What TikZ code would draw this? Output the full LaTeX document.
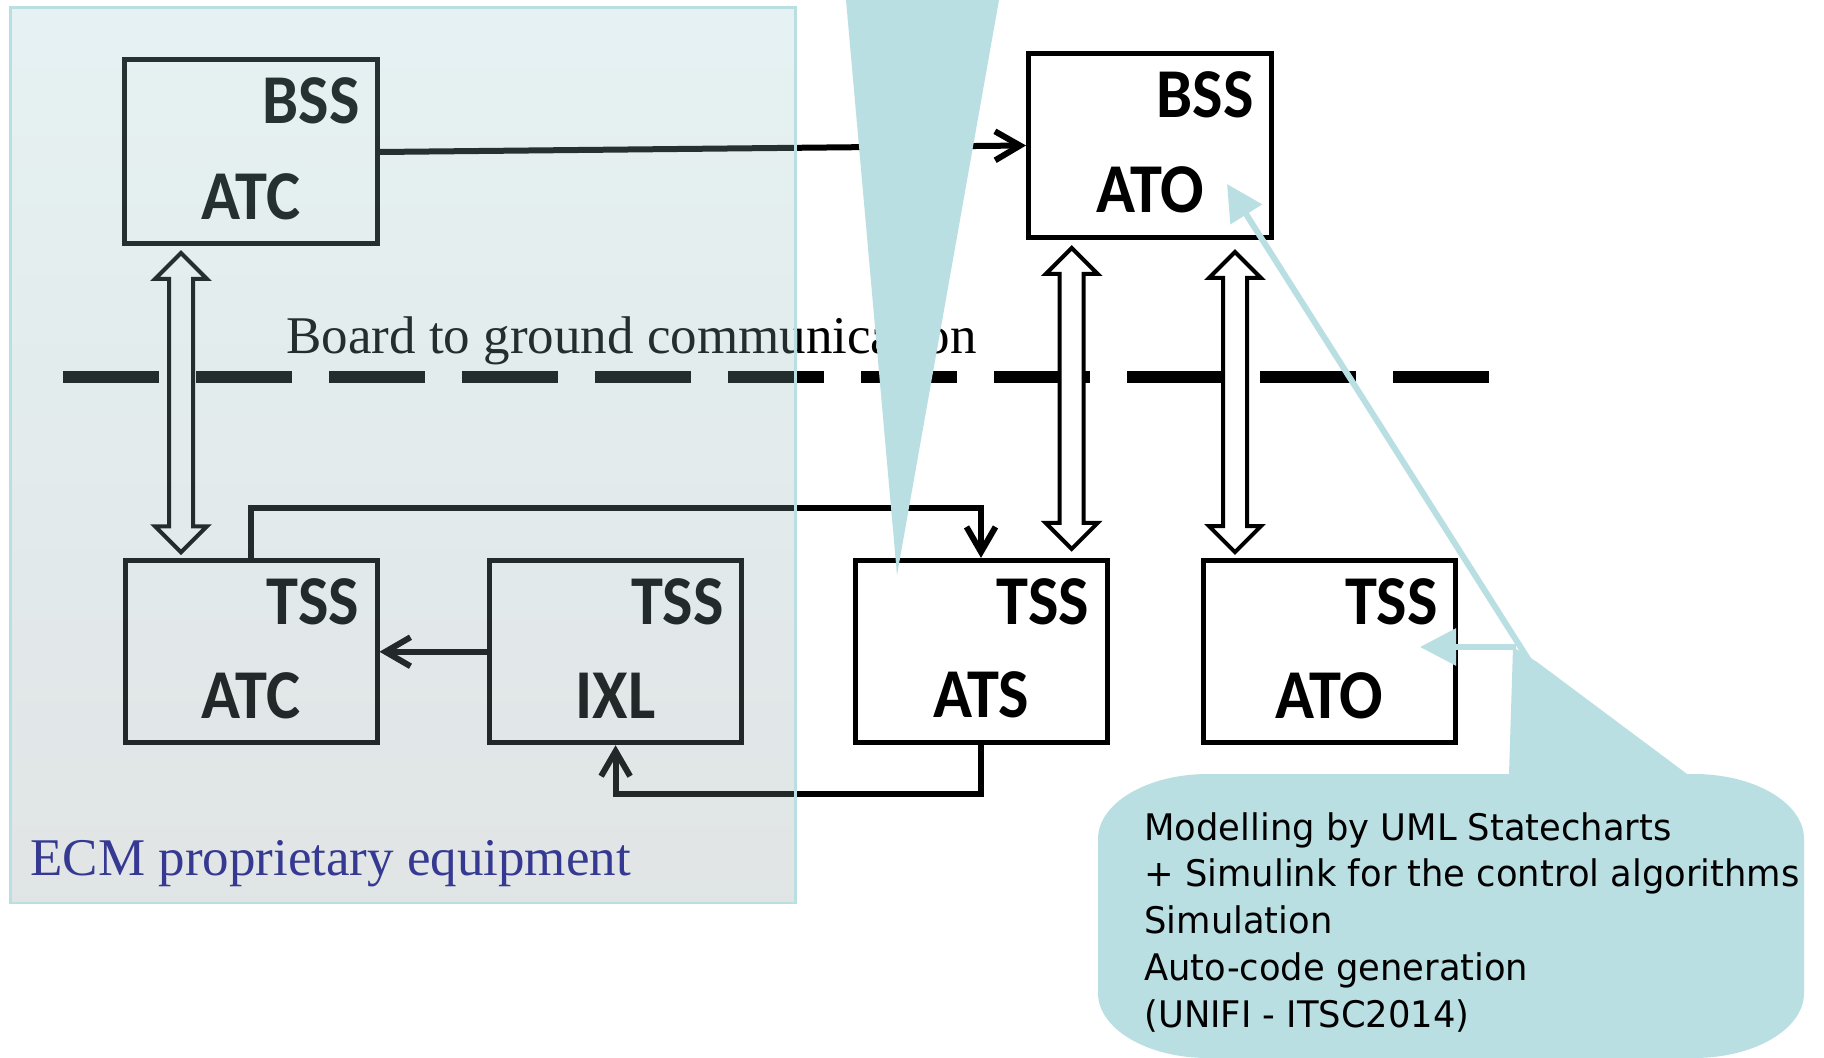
\documentclass[tikz,border=0pt]{standalone}
\usepackage{fontspec}
\setmainfont{Liberation Serif}
\newfontfamily\boxfont{Carlito}[FakeStretch=0.92]
\newfontfamily\calfont{DejaVu Sans}[FakeStretch=0.965]
\usetikzlibrary{arrows.meta,calc}
\definecolor{calcyan}{RGB}{185,223,227}
\definecolor{ecmblue}{RGB}{54,57,146}
\definecolor{ovtop}{RGB}{155,203,207}
\definecolor{ovbot}{RGB}{135,151,155}
\newcommand\dblarrow[2]{\draw[dblarr] (#1) -- ++(26,26) -- ++(-14,0) -- ($(#2)+(12,-26)$) -- ++(14,0) -- (#2) -- ++(-26,-26) -- ++(14,0) -- ($(#1)+(-12,26)$) -- ++(-14,0) -- cycle;}
\begin{document}
\begin{tikzpicture}[x=0.5pt,y=-0.5pt,
  blk/.style={draw=black, line width=2.5pt, minimum width=126pt, minimum height=91pt, inner sep=0pt},
  lbl/.style={font=\boxfont\bfseries\fontsize{35pt}{35pt}\selectfont, inner sep=0pt},
  conn/.style={line width=3pt, -{Straight Barb[length=12.5pt,width=14.5pt]}},
  dblarr/.style={draw=black, fill=white, line width=2pt, line join=miter},
  calarr/.style={draw=calcyan, line width=3pt, -{Triangle[length=18pt,width=18pt]}},
  serif/.style={inner sep=0pt, font=\fontsize{26.5pt}{26.5pt}\selectfont}]
\useasboundingbox (0,0) rectangle (1824,1058);
\fill[white] (0,0) rectangle (1824,1058);
% separator
\draw[line width=6pt, dash pattern=on 48pt off 18.5pt] (63,376.7) -- (1489,376.7);
\node[serif, anchor=base west] (b2g) at (286,354) {Board to ground communication};
% boxes
\node[blk, minimum width=126.5pt, minimum height=92pt] (bssatc) at (251,152) {};
\node[blk, minimum width=121.5pt, minimum height=92pt] (bssato) at (1150,145.5) {};
\node[blk] (tssatc) at (251,651.75) {};
\node[blk] (tssixl) at (615.6,651.75) {};
\node[blk] (tssats) at (981,651.4) {};
\node[blk] (tssato) at (1329.4,651.6) {};
\foreach \b/\t/\s in {bssatc/BSS/ATC, bssato/BSS/ATO, tssatc/TSS/ATC, tssixl/TSS/IXL, tssats/TSS/ATS, tssato/TSS/ATO}{
  \node[lbl, anchor=base east] (\b-t) at ($(\b.north east)+(-20,66.5)$) {\t};
  \node[lbl, anchor=base] (\b-s) at ($(\b.south)+(0,-27)$) {\s};
}
% connectors
\draw[conn] (bssatc.east) -- (bssato.west);
\draw[conn] (tssixl.west) -- (tssatc.east);
\draw[conn] (tssatc.north) -- ++(0,-50) -| (tssats.north);
\draw[conn] (tssats.south) -- ++(0,49) -| (tssixl.south);
% double arrows
\coordinate (d1a) at ($(bssatc.south)+(-70,6.5)$);
\coordinate (d1b) at ($(d1a |- tssatc.north)+(0,-6)$);
\coordinate (d2a) at ($(bssato.south)+(-78.3,8)$);
\coordinate (d2b) at ($(d2a |- tssats.north)+(0,-9)$);
\coordinate (d3a) at ($(bssato.south)+(85,12)$);
\coordinate (d3b) at ($(d3a |- tssato.north)+(0,-6)$);
\dblarrow{d1a}{d1b}
\dblarrow{d2a}{d2b}
\dblarrow{d3a}{d3b}
% ECM overlay
\shade[top color=ovtop, bottom color=ovbot, fill opacity=0.25] (10.5,7.5) rectangle (795.5,903);
\draw[calcyan, line width=1.2pt] (10.5,7.5) rectangle (795.5,903);
\node[serif, anchor=base west, text=ecmblue] (ecm) at (30,875) {ECM proprietary equipment};
% callouts
\fill[calcyan] (846,0) -- (999,0) -- (897,575) -- cycle;
\fill[calcyan] (1208,774) -- (1509,774) -- (1513,647) -- (1537,662) -- (1687,774) -- (1694,774)
  arc[start angle=-90, end angle=0, x radius=110, y radius=65] -- (1804,993)
  arc[start angle=0, end angle=90, x radius=110, y radius=65] -- (1208,1058)
  arc[start angle=90, end angle=180, x radius=110, y radius=65] -- (1098,839)
  arc[start angle=180, end angle=270, x radius=110, y radius=65] -- cycle;
\coordinate (cA) at (1530,662);
\coordinate (tipA) at (1227,184);
\coordinate (cB) at (1516,647);
\coordinate (tipB) at (1420,647);
\draw[calarr] (cA) -- (tipA);
\draw[calarr] (cB) -- (tipB);
\node[anchor=north west, inner sep=0pt, align=left, font=\calfont\fontsize{18.3pt}{23.35pt}\selectfont] (ctext) at (1144,812)
  {Modelling by UML Statecharts\\+ Simulink for the control algorithms\\Simulation\\Auto-code generation\\(UNIFI - ITSC2014)};
\end{tikzpicture}
\end{document}
